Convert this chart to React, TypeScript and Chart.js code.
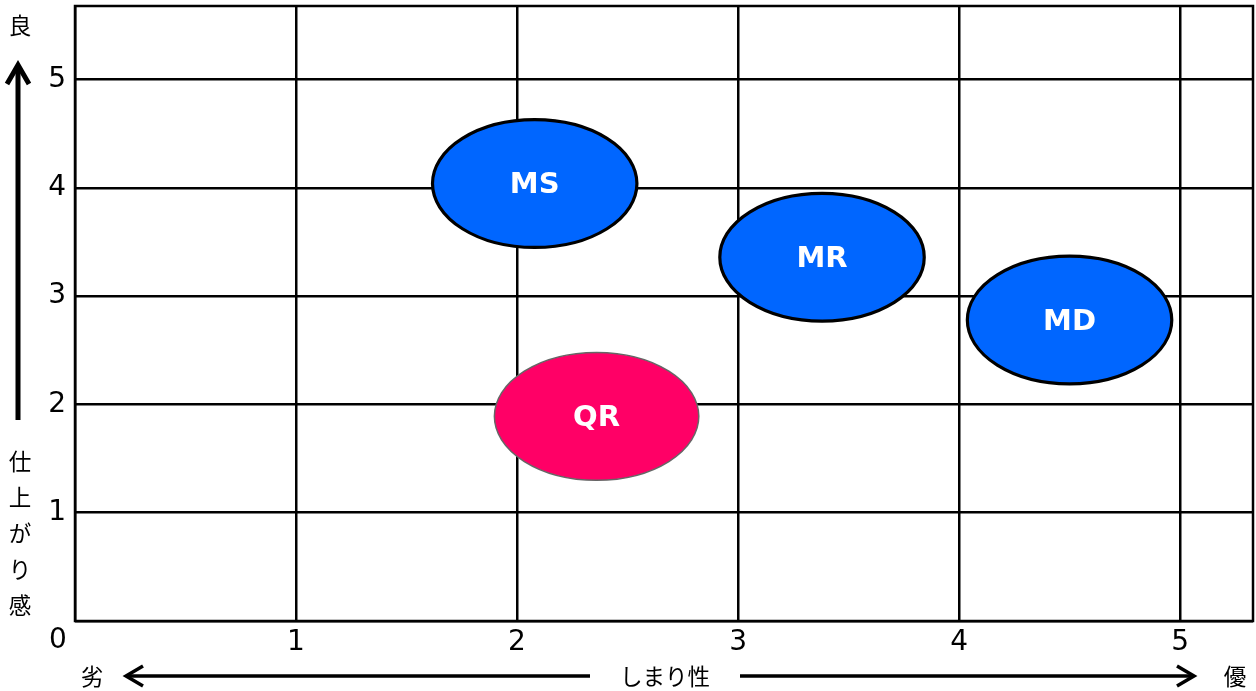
import React, { useEffect, useRef } from "react";
import { Chart, registerables } from "chart.js";

Chart.register(...registerables);

const names = ["MS", "MR", "MD", "QR"];
const xValues = [2.08, 3.38, 4.5, 2.36];
const yValues = [4.04, 3.36, 2.78, 1.89];
const fillColors = ["#0066FF", "#0066FF", "#0066FF", "#FF0066"];
const borderColors = ["#000000", "#000000", "#000000", "#666666"];
const tickValues = [0, 1, 2, 3, 4, 5];
const xAxisTitle = "しまり性";
const yAxisTitle = ["仕", "上", "が", "り", "感"];

const ELLIPSE_W = 0.925; // x units
const ELLIPSE_H = 1.18; // y units

const DIGIT_FAMILY = '"DejaVu Sans", Verdana, sans-serif';
const DIGIT_FONT = '28px "DejaVu Sans", Verdana, sans-serif';
const JP_FONT = '22.5px "Noto Sans CJK JP", sans-serif';

const decorPlugin = {
  id: "decor",
  beforeDatasetsDraw(chart: any) {
    const { ctx, chartArea } = chart;
    ctx.save();
    ctx.strokeStyle = "#000";
    ctx.lineWidth = 2.5;
    ctx.strokeRect(chartArea.left, chartArea.top, chartArea.right - chartArea.left, chartArea.bottom - chartArea.top);
    ctx.restore();
  },
  afterDatasetsDraw(chart: any) {
    const { ctx, chartArea, scales } = chart;
    const meta = chart.getDatasetMeta(0);
    const xs = scales.x;
    const ys = scales.y;
    const rx = Math.abs(xs.getPixelForValue(ELLIPSE_W) - xs.getPixelForValue(0)) / 2;
    const ry = Math.abs(ys.getPixelForValue(ELLIPSE_H) - ys.getPixelForValue(0)) / 2;
    ctx.save();
    meta.data.forEach((pt: any, i: number) => {
      ctx.beginPath();
      ctx.ellipse(pt.x, pt.y, rx, ry, 0, 0, Math.PI * 2);
      ctx.fillStyle = fillColors[i];
      ctx.fill();
      ctx.lineWidth = i === 3 ? 1.5 : 3.2;
      ctx.strokeStyle = borderColors[i];
      ctx.stroke();
      ctx.fillStyle = "#fff";
      ctx.font = 'bold 29px "DejaVu Sans", Verdana, sans-serif';
      ctx.textAlign = "center";
      ctx.textBaseline = "middle";
      ctx.fillText(names[i], pt.x, pt.y + 2);
    });

    // origin "0"
    ctx.fillStyle = "#000";
    ctx.font = DIGIT_FONT;
    ctx.textAlign = "center";
    ctx.textBaseline = "middle";
    ctx.fillText("0", chartArea.left - 17, chartArea.bottom + 20);

    // y axis title
    ctx.font = JP_FONT;
    ctx.fillText("良", 20, chartArea.top + 19);
    yAxisTitle.forEach((ch, i) => {
      ctx.fillText(ch, 20, chartArea.top + 455 + i * 36);
    });
    // y arrow
    ctx.strokeStyle = "#000";
    ctx.lineWidth = 5;
    ctx.lineCap = "butt";
    ctx.beginPath();
    ctx.moveTo(18, chartArea.top + 414);
    ctx.lineTo(18, chartArea.top + 60);
    ctx.stroke();
    ctx.lineJoin = "miter";
    ctx.beginPath();
    ctx.moveTo(7, chartArea.top + 78);
    ctx.lineTo(18, chartArea.top + 59);
    ctx.lineTo(29, chartArea.top + 78);
    ctx.stroke();

    // x axis title
    const ty = chartArea.bottom + 55;
    ctx.fillText("劣", 92, ty);
    ctx.fillText(xAxisTitle, 665, ty);
    ctx.fillText("優", 1235, ty);
    ctx.lineWidth = 3.5;
    ctx.beginPath();
    ctx.moveTo(128, ty);
    ctx.lineTo(590, ty);
    ctx.moveTo(740, ty);
    ctx.lineTo(1192, ty);
    ctx.stroke();
    ctx.beginPath();
    ctx.moveTo(143, ty - 10);
    ctx.lineTo(126, ty);
    ctx.lineTo(143, ty + 10);
    ctx.moveTo(1177, ty - 10);
    ctx.lineTo(1194, ty);
    ctx.lineTo(1177, ty + 10);
    ctx.stroke();
    ctx.restore();
  },
};

export default function App() {
  const ref = useRef<HTMLCanvasElement>(null);
  useEffect(() => {
    document.body.style.margin = "0";
    const data = xValues.map((x, i) => ({ x, y: yValues[i] }));
    const chart = new Chart(ref.current as HTMLCanvasElement, {
      type: "scatter",
      data: {
        datasets: [
          {
            label: "points",
            data,
            pointRadius: 0,
            pointHoverRadius: 0,
          },
        ],
      },
      options: {
        animation: false,
        responsive: false,
        events: [],
        layout: { padding: { left: 0, top: 6, right: 3, bottom: 0 } },
        plugins: { legend: { display: false }, tooltip: { enabled: false } },
        scales: {
          x: {
            type: "linear",
            min: 0,
            max: 5.33,
            afterBuildTicks: (s: any) => {
              s.ticks = tickValues.map((v) => ({ value: v }));
            },
            afterFit: (s: any) => {
              s.height = 70;
              s.paddingLeft = 0;
              s.paddingRight = 0;
            },
            grid: { color: "#000", lineWidth: 2.5, drawTicks: false },
            border: { display: false },
            ticks: {
              color: "#000",
              font: { family: DIGIT_FAMILY, size: 28 },
              padding: 5,
              maxRotation: 0,
              autoSkip: false,
              callback: (v: any) => (v === 0 ? "" : String(v)),
            },
          },
          y: {
            type: "linear",
            min: 0,
            max: 5.68,
            afterBuildTicks: (s: any) => {
              s.ticks = tickValues.map((v) => ({ value: v }));
            },
            afterFit: (s: any) => {
              s.width = 75;
              s.paddingTop = 0;
              s.paddingBottom = 0;
            },
            grid: { color: "#000", lineWidth: 2.5, drawTicks: false },
            border: { display: false },
            ticks: {
              color: "#000",
              font: { family: DIGIT_FAMILY, size: 28 },
              padding: 9,
              autoSkip: false,
              callback: (v: any) => (v === 0 ? "" : String(v)),
            },
          },
        },
      },
      plugins: [decorPlugin],
    });
    return () => chart.destroy();
  }, []);
  return <canvas ref={ref} width={1256} height={691} style={{ display: "block" }} />;
}
